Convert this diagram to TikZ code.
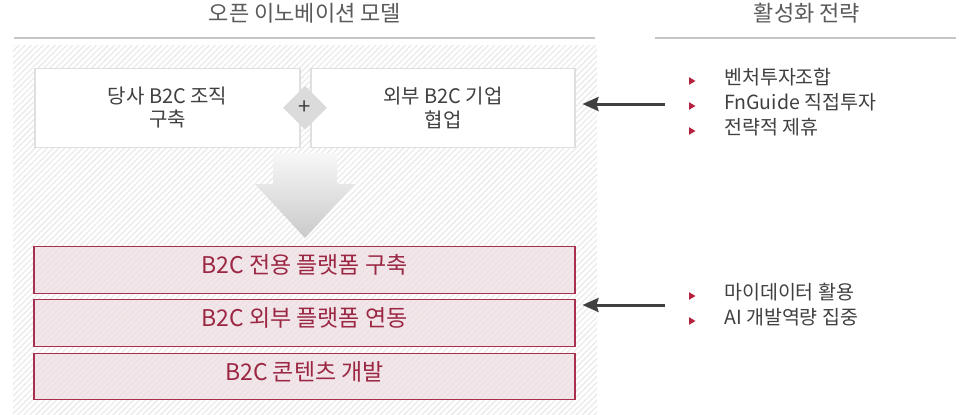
\documentclass[tikz,border=0pt]{standalone}
\usepackage{fontspec}
\setmainfont{Noto Sans CJK KR}
\usetikzlibrary{shapes.geometric,arrows.meta,patterns.meta}
\definecolor{txt}{HTML}{404040}
\definecolor{ttl}{HTML}{5A5A5A}
\definecolor{rline}{HTML}{A8304F}
\definecolor{rtxt}{HTML}{9B2743}
\definecolor{rfill}{HTML}{EEDDE2}
\definecolor{bul}{HTML}{B3223F}
\definecolor{arr}{HTML}{404040}
\definecolor{hatch}{HTML}{EBEBEB}
\begin{document}
\begin{tikzpicture}[x=1pt,y=-1pt,
  title/.style={font=\fontsize{22}{26}\selectfont,text=ttl,inner sep=0pt,text height=0.83em,text depth=0.07em},
  whitebox/.style={draw=gray!25,line width=1.2pt,fill=white,minimum width=265pt,minimum height=79pt,inner sep=0pt,align=center,font=\fontsize{20}{23.5}\selectfont,text=txt},
  redbox/.style={draw=rline,line width=1.3pt,fill=rfill,fill opacity=0.72,text opacity=1,minimum width=541pt,minimum height=46.5pt,inner sep=0pt,font=\fontsize{23}{27}\selectfont,text=rtxt,text height=0.83em,text depth=0.07em},
  bultext/.style={anchor=west,inner sep=0pt,font=\fontsize{19.5}{23}\selectfont,text=txt,text height=0.83em,text depth=0.07em},
  strat/.style={draw=arr,line width=3pt,-{Stealth[length=16pt,width=14pt,inset=2pt]}},
  rule/.style={draw=gray!45,line width=1.2pt},
  bulmark/.style={fill=bul}
]
\useasboundingbox (0,0) rectangle (964,415);
\fill[white] (0,0) rectangle (964,415);

% hatched background
\path[pattern={Lines[angle=45,distance=4.2pt,line width=1.3pt]},pattern color=hatch] (13,45) rectangle (597,415);

% titles and rules
\node[title] (t1) at (305,17.5) {오픈 이노베이션 모델};
\node[title] (t2) at (807,17.5) {활성화 전략};
\draw[rule] (14,38) -- (595,38);
\draw[rule] (655,38) -- (956,38);

% top boxes
\node[whitebox] (lb) at (167.5,107.75) {당사 B2C 조직\\구축};
\node[whitebox,minimum width=264pt] (rb) at (443,107.75) {외부 B2C 기업\\협업};
\node[diamond,fill=gray!28,minimum width=44pt,minimum height=44pt,inner sep=0pt,font=\fontsize{22}{24}\selectfont,text=txt] (plus) at (305,107.7) {+};

% big down arrow
\shade[top color=gray!6,bottom color=gray!42]
  (273,153) -- (337,153) -- (337,184) -- (355,184) -- (305,238) -- (255,184) -- (273,184) -- cycle;

% red boxes
\node[redbox] (r1) at (304.5,270) {B2C 전용 플랫폼 구축};
\node[redbox] (r2) at (304.5,323) {B2C 외부 플랫폼 연동};
\node[redbox] (r3) at (304.5,376.5) {B2C 콘텐츠 개발};

% strategies group 1
\node[bultext] (s1) at (724,81) {벤처투자조합};
\node[bultext] (s2) at (724,106) {FnGuide 직접투자};
\node[bultext] (s3) at (724,131) {전략적 제휴};
\foreach \yy in {81,106,131} \fill[bulmark] (689,\yy-3.8) -- (695.5,\yy) -- (689,\yy+3.8) -- cycle;

% strategies group 2
\node[bultext] (s4) at (724,296) {마이데이터 활용};
\node[bultext] (s5) at (724,321) {AI 개발역량 집중};
\foreach \yy in {296,321} \fill[bulmark] (689,\yy-3.8) -- (695.5,\yy) -- (689,\yy+3.8) -- cycle;

% arrows
\coordinate (a1s) at (665,104);
\coordinate (a1e) at (582.5,104);
\coordinate (a2s) at (665,305);
\coordinate (a2e) at (582.5,305);
\draw[strat] (a1s) -- (a1e);
\draw[strat] (a2s) -- (a2e);
\end{tikzpicture}
\end{document}
